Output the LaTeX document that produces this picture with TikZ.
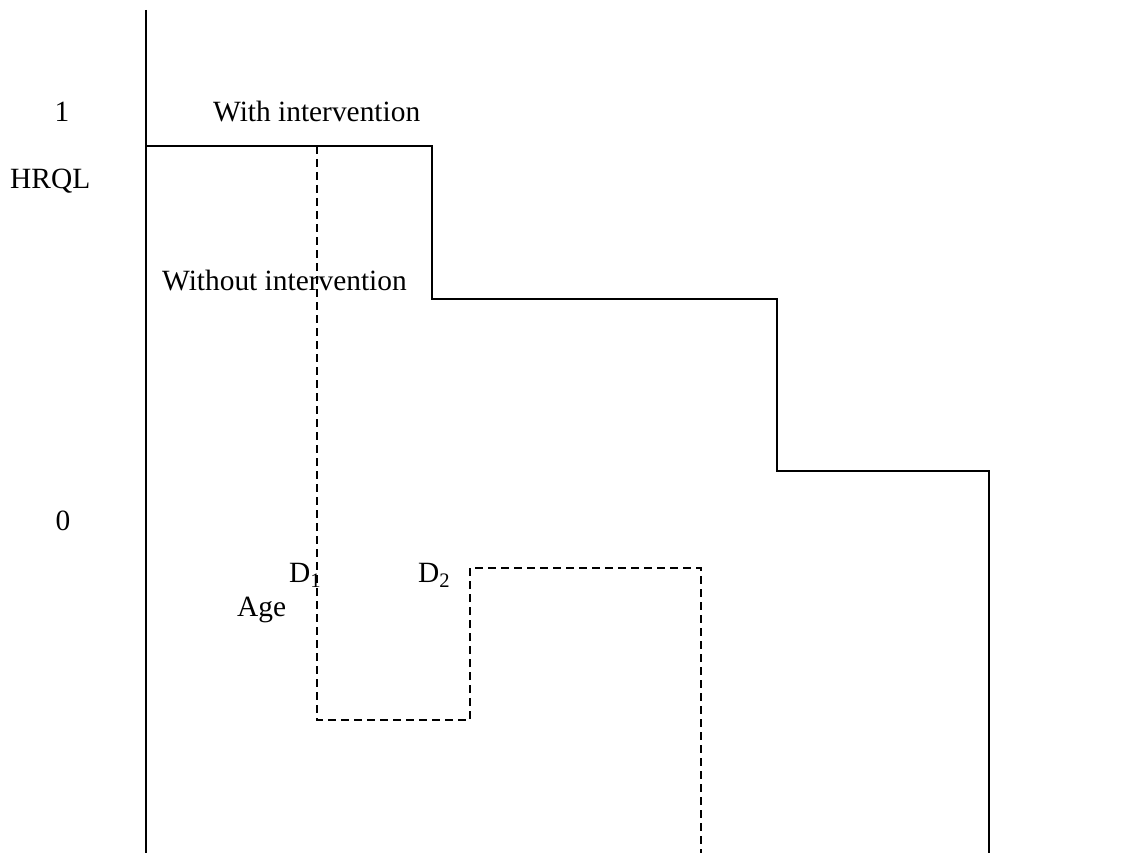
\documentclass[tikz,border=0pt]{standalone}
\usepackage{fontspec}
\setmainfont{Liberation Serif}
\begin{document}
\begin{tikzpicture}[x=1pt,y=-1pt,
  lbl/.style={font=\fontsize{29.4}{34}\selectfont, inner sep=0pt},
  solidline/.style={line width=2pt},
  dashline/.style={line width=2pt, dash pattern=on 8pt off 5pt}]
\useasboundingbox (0,0) rectangle (1140,853);
% axis
\coordinate (axtop) at (146,10);
\coordinate (axbot) at (146,853);
\draw[solidline] (axtop) -- (axbot);
% with intervention (solid)
\coordinate (w0) at (146,146);
\coordinate (w1) at (432,146);
\coordinate (w2) at (432,299);
\coordinate (w3) at (777,299);
\coordinate (w4) at (777,471);
\coordinate (w5) at (989,471);
\coordinate (w6) at (989,853);
\draw[solidline] (w0) -- (w1) -- (w2) -- (w3) -- (w4) -- (w5) -- (w6);
% without intervention (dashed)
\coordinate (d0) at (317,146);
\coordinate (d1) at (317,720);
\coordinate (d2) at (470,720);
\coordinate (d3) at (470,568);
\coordinate (d4) at (701,568);
\coordinate (d5) at (701,853);
\draw[dashline] (d0) -- (d1) -- (d2) -- (d3) -- (d4) -- (d5);
% labels
\node[lbl, anchor=base] (one) at (62,122) {1};
\node[lbl, anchor=base west] (withl) at (213,122) {With intervention};
\node[lbl, anchor=base west] (hrql) at (10,189) {HRQL};
\node[lbl, anchor=base west] (withoutl) at (162,290) {Without intervention};
\node[lbl, anchor=base] (zero) at (63,530) {0};
\node[lbl, anchor=base west] (dd1) at (289,582) {D\textsubscript{1}};
\node[lbl, anchor=base west] (dd2) at (418,582) {D\textsubscript{2}};
\node[lbl, anchor=base west] (age) at (237,616) {Age};
\end{tikzpicture}
\end{document}
